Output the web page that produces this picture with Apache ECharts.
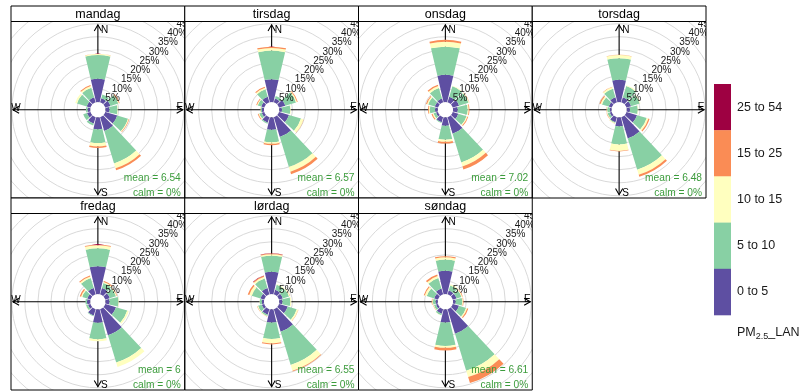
<!DOCTYPE html>
<html>
<head>
<meta charset="utf-8">
<script src="https://cdn.jsdelivr.net/npm/echarts@6/dist/echarts.min.js"></script>
<style>
  html, body { margin: 0; padding: 0; background: #ffffff; }
  #chart { width: 803px; height: 392px; }
</style>
</head>
<body>
<div id="chart"></div>
<script>
// Pollution rose of PM2.5 by weekday: frequency (%) of wind from each 30° sector,
// stacked by concentration band.
const days = ['mandag', 'tirsdag', 'onsdag', 'torsdag', 'fredag', 'lørdag', 'søndag'];
const directions = ['0', '30', '60', '90', '120', '150', '180', '210', '240', '270', '300', '330'];
const bins = ['0 to 5', '5 to 10', '10 to 15', '15 to 25', '25 to 54'];
const binColours = ['#5E4FA2', '#88D0A4', '#FFFFBF', '#FA8C55', '#9E0142'];
const means = ['6.54', '6.57', '7.02', '6.48', '6', '6.55', '6.61'];
const calms = ['0%', '0%', '0%', '0%', '0%', '0%', '0%'];
const gridBreaks = [0, 5, 10, 15, 20, 25, 30, 35, 40, 45, 50, 55];
const compassLetters = ['N', 'E', 'S', 'W'];

// rows: one per concentration band, columns: one per direction sector
const mandag = [
  [8.9, 1.6, 2.1, 1.5, 4.8, 5.5, 4.5, 2.5, 1.4, 1.0, 1.5, 2.0],
  [9.1, 1.5, 3.1, 3.1, 4.3, 13.0, 5.3, 0.8, 1.5, 0.6, 3.9, 3.8],
  [0.4, 0, 0.3, 0.2, 0.3, 1.9, 1.3, 0, 0, 0, 0.7, 0.7],
  [0.1, 0, 0.3, 0, 0.2, 0.8, 0.6, 0, 0, 0, 0, 0.4],
  [0, 0, 0, 0, 0, 0, 0, 0, 0, 0, 0, 0]
];
const tirsdag = [
  [8.7, 1.5, 2.5, 1.0, 4.0, 7.9, 4.7, 2.2, 1.0, 0.8, 1.2, 2.2],
  [11.0, 1.0, 4.3, 3.2, 4.8, 12.0, 4.8, 0.4, 1.0, 0.4, 1.4, 3.0],
  [1.0, 0, 0.4, 0.2, 1.0, 1.9, 0.6, 0, 0.3, 0.1, 0.3, 0.6],
  [0.5, 0, 0.3, 0, 0.1, 1.0, 0.5, 0, 0.3, 0.1, 0.3, 0.4],
  [0, 0, 0, 0, 0, 0, 0, 0, 0, 0, 0, 0]
];
const onsdag = [
  [10.4, 2.2, 2.5, 1.8, 2.2, 6.6, 3.2, 2.0, 0.8, 1.0, 1.3, 1.5],
  [10.8, 4.2, 3.8, 3.8, 3.3, 11.5, 5.3, 0.3, 1.0, 2.0, 2.6, 4.2],
  [1.9, 0.2, 0.3, 0.4, 0.4, 1.6, 0.8, 0, 0.4, 0.4, 0.5, 0.8],
  [0.7, 0, 0.1, 0.3, 0.3, 1.2, 0.7, 0, 0.4, 0.3, 0.4, 0.5],
  [0, 0, 0, 0, 0, 0, 0, 0, 0, 0, 0, 0]
];
const torsdag = [
  [8.5, 2.0, 1.8, 1.2, 4.2, 8.5, 3.4, 2.0, 0.8, 0.6, 1.2, 2.0],
  [8.3, 4.5, 3.5, 3.0, 3.9, 12.5, 6.9, 0.3, 0.9, 1.0, 2.7, 3.4],
  [1.2, 0.3, 0.3, 0.2, 0.7, 2.0, 2.5, 0.2, 0.2, 0.2, 0.6, 0.7],
  [0.1, 0, 0, 0, 0.4, 0.8, 0.2, 0.1, 0.2, 0.1, 0.4, 0.1],
  [0, 0, 0, 0, 0, 0, 0, 0, 0, 0, 0, 0]
];
const fredag = [
  [10.6, 2.5, 1.8, 1.5, 4.3, 10.4, 5.1, 2.5, 1.0, 1.2, 1.3, 2.5],
  [6.9, 2.0, 2.5, 3.4, 4.5, 10.9, 6.3, 0.3, 0.8, 0.6, 2.0, 4.0],
  [1.2, 0.4, 0.3, 0.2, 0.6, 1.8, 0.8, 0, 0.1, 0, 0.5, 0.6],
  [0.3, 0.4, 0.2, 0, 0, 0, 0, 0, 0, 0, 0.5, 0.4],
  [0, 0, 0, 0, 0, 0, 0, 0, 0, 0, 0, 0]
];
const lordag = [
  [8.5, 1.8, 1.5, 1.2, 3.5, 9.0, 5.0, 2.2, 1.0, 0.8, 1.5, 2.5],
  [6.2, 2.0, 2.5, 3.0, 3.6, 13.3, 6.3, 0.5, 1.5, 0.8, 3.5, 3.8],
  [0.5, 0.3, 0.4, 0.4, 0.6, 2.3, 1.7, 0.2, 0.3, 0.1, 1.0, 0.7],
  [0.3, 0, 0.1, 0, 0.1, 0.3, 0.4, 0.1, 0.1, 0, 0.6, 0.4],
  [0.1, 0, 0, 0, 0, 0, 0, 0, 0, 0, 0, 0.1]
];
const sondag = [
  [8.9, 1.5, 1.5, 1.0, 2.5, 9.8, 5.0, 1.8, 0.8, 0.8, 1.5, 2.3],
  [4.3, 2.0, 2.0, 2.5, 2.8, 14.8, 9.0, 0.6, 0.8, 1.0, 3.0, 4.2],
  [0.9, 0.5, 0.3, 0.3, 0.5, 2.6, 0.7, 0.1, 0.2, 0.3, 0.8, 0.8],
  [0.4, 0, 0.2, 0.2, 0.4, 2.4, 1.0, 0, 0.1, 0.2, 0.4, 0.6],
  [0, 0, 0, 0, 0, 0, 0, 0, 0, 0, 0, 0]
];
const dayValues = [mandag, tirsdag, onsdag, torsdag, fredag, lordag, sondag];

// ---- layout of the 4 x 2 panel grid ----
const panelLeft = 11;
const panelW = 173.75;
const rowTops = [6, 198];
const stripH = 15.5;
const plotH = 176.5;
const roseRadius = 85;
const FONT = '"Liberation Sans", Arial, Helvetica, sans-serif';

function panelBox(i) {
  const col = i % 4, row = Math.floor(i / 4);
  const x = panelLeft + col * panelW;
  const stripY = rowTops[row];
  return { x: x, y: stripY + stripH, w: panelW, h: plotH, stripY: stripY };
}

// shared radial scale: longest sector sets the range, 10% of it is the hollow centre
const sectorTotals = dayValues.map(d => directions.map((_, j) => d.reduce((s, row) => s + row[j], 0)));
const maxFreq = Math.max.apply(null, sectorTotals.flat());
const offSet = maxFreq * 0.1;

// radius (px) of a frequency value
function radialScale(api, cs) {
  const p0 = api.coord([0, 0]);
  const p5 = api.coord([5, 0]);
  const r0 = Math.hypot(p0[0] - cs.cx, p0[1] - cs.cy);
  const r5 = Math.hypot(p5[0] - cs.cx, p5[1] - cs.cy);
  return v => r0 + (r5 - r0) * v / 5;
}

function clipOf(box) {
  return { type: 'rect', shape: { x: box.x, y: box.y, width: box.w, height: box.h } };
}

const polar = [], angleAxis = [], radiusAxis = [], series = [], graphic = [];
const hidden = { axisLine: { show: false }, axisTick: { show: false }, axisLabel: { show: false },
                 splitLine: { show: false }, splitArea: { show: false } };

days.forEach((day, i) => {
  const box = panelBox(i);
  polar.push({ center: [box.x + box.w / 2, box.y + box.h / 2], radius: roseRadius });
  angleAxis.push(Object.assign({ polarIndex: i, type: 'category', data: directions,
    startAngle: 90 + 180 / directions.length, clockwise: true, boundaryGap: true }, hidden));
  radiusAxis.push(Object.assign({ polarIndex: i, type: 'value', min: -offSet, max: maxFreq }, hidden));

  // grey rings every 5 %
  series.push({
    type: 'custom', coordinateSystem: 'polar', polarIndex: i, z: 1, silent: true, animation: false,
    data: gridBreaks.map(b => [b, 0]),
    renderItem: function (params, api) {
      const cs = params.coordSys;
      const rad = radialScale(api, cs);
      return {
        type: 'group', clipPath: clipOf(box),
        children: [{ type: 'circle', shape: { cx: cs.cx, cy: cs.cy, r: rad(api.value(0)) },
          style: { fill: null, stroke: '#d9d9d9', lineWidth: 1 } }]
      };
    }
  });

  // compass cross with arrowheads, and the hollow centre
  series.push({
    type: 'custom', coordinateSystem: 'polar', polarIndex: i, z: 2, silent: true, animation: false,
    data: [[maxFreq, 0]],
    renderItem: function (params, api) {
      const cs = params.coordSys;
      const rad = radialScale(api, cs);
      const R = rad(api.value(0));
      const hole = rad(0);
      const cx = cs.cx, cy = cs.cy;
      const ah = 7.2, a = Math.PI / 6;
      const line = (x1, y1, x2, y2) => ({ type: 'line', shape: { x1: x1, y1: y1, x2: x2, y2: y2 },
        style: { stroke: '#000', lineWidth: 1.1 } });
      const head = (tx, ty, dx, dy) => {
        // dx,dy: unit vector pointing outwards along the shaft
        const bx = -dx, by = -dy;
        const p1 = [tx + ah * (bx * Math.cos(a) - by * Math.sin(a)), ty + ah * (bx * Math.sin(a) + by * Math.cos(a))];
        const p2 = [tx + ah * (bx * Math.cos(-a) - by * Math.sin(-a)), ty + ah * (bx * Math.sin(-a) + by * Math.cos(-a))];
        return { type: 'polyline', shape: { points: [p1, [tx, ty], p2] }, style: { fill: null, stroke: '#000', lineWidth: 1.1 } };
      };
      return {
        type: 'group', clipPath: clipOf(box),
        children: [
          line(cx, cy - R, cx, cy + R), line(cx - R, cy, cx + R, cy),
          head(cx, cy - R, 0, -1), head(cx, cy + R, 0, 1), head(cx + R, cy, 1, 0), head(cx - R, cy, -1, 0),
          { type: 'circle', shape: { cx: cx, cy: cy, r: hole }, style: { fill: '#fff', stroke: null } }
        ]
      };
    }
  });

  // stacked concentration bands
  bins.forEach((bin, b) => {
    series.push({
      type: 'bar', coordinateSystem: 'polar', polarIndex: i, stack: 'rose' + i, name: bin,
      data: dayValues[i][b], barCategoryGap: '12%', z: 3, silent: true, animation: false,
      itemStyle: { color: binColours[b] }
    });
  });

  // ring labels along the 45° line
  series.push({
    type: 'custom', coordinateSystem: 'polar', polarIndex: i, z: 4, silent: true, animation: false,
    data: gridBreaks.slice(1).map(b => [b, 0]),
    renderItem: function (params, api) {
      const cs = params.coordSys;
      const rad = radialScale(api, cs);
      const r = rad(api.value(0));
      return {
        type: 'group', clipPath: clipOf(box),
        children: [{ type: 'text', x: cs.cx + r * Math.SQRT1_2, y: cs.cy - r * Math.SQRT1_2 + 3,
          style: { text: api.value(0) + '%', fill: '#1a1a1a', font: '10px ' + FONT,
                   align: 'center', verticalAlign: 'middle' } }]
      };
    }
  });

  // compass letters
  series.push({
    type: 'custom', coordinateSystem: 'polar', polarIndex: i, z: 4, silent: true, animation: false,
    data: compassLetters.map((c, k) => [maxFreq, k]),
    renderItem: function (params, api) {
      const cs = params.coordSys;
      const rad = radialScale(api, cs);
      const R = rad(api.value(0));
      const k = params.dataIndex;
      const pos = [[cs.cx + 3, cs.cy - R + 5.5, 'left'], [cs.cx + R - 3, cs.cy - 2.5, 'center'],
                   [cs.cx + 3, cs.cy + R - 2, 'left'], [cs.cx - R + 3, cs.cy - 2, 'center']][k];
      return {
        type: 'group', clipPath: clipOf(box),
        children: [{ type: 'text', x: pos[0], y: pos[1],
          style: { text: compassLetters[k], fill: '#000', font: '10px ' + FONT,
                   align: pos[2], verticalAlign: 'middle' } }]
      };
    }
  });

  // strip with day name, panel frame, annotations
  graphic.push({ type: 'rect', shape: { x: box.x, y: box.stripY, width: box.w, height: stripH },
    style: { fill: '#fff', stroke: '#000', lineWidth: 1 }, z: 20, silent: true });
  graphic.push({ type: 'text', x: box.x + box.w / 2, y: box.stripY + stripH / 2 + 0.5,
    style: { text: day, fill: '#000', font: '12.5px ' + FONT, align: 'center', verticalAlign: 'middle' },
    z: 21, silent: true });
  graphic.push({ type: 'rect', shape: { x: box.x, y: box.y, width: box.w, height: box.h },
    style: { fill: null, stroke: '#000', lineWidth: 1 }, z: 20, silent: true });
  graphic.push({ type: 'text', x: box.x + box.w - 4, y: box.y + box.h - 19.5,
    style: { text: 'mean = ' + means[i], fill: '#3c9c3c', font: '10.2px ' + FONT, align: 'right', verticalAlign: 'middle' },
    z: 21, silent: true });
  graphic.push({ type: 'text', x: box.x + box.w - 4, y: box.y + box.h - 4.5,
    style: { text: 'calm = ' + calms[i], fill: '#3c9c3c', font: '10.2px ' + FONT, align: 'right', verticalAlign: 'middle' },
    z: 21, silent: true });
});

// colour key
const keyX = 714, keyW = 17, keyTop = 84, keyH = 46.2;
bins.slice().reverse().forEach((bin, k) => {
  const b = bins.length - 1 - k;
  graphic.push({ type: 'rect', shape: { x: keyX, y: keyTop + k * keyH, width: keyW, height: keyH + 0.3 },
    style: { fill: binColours[b], stroke: null }, z: 20, silent: true });
  graphic.push({ type: 'text', x: 737, y: keyTop + k * keyH + keyH / 2,
    style: { text: bin, fill: '#1a1a1a', font: '12.5px ' + FONT, align: 'left', verticalAlign: 'middle' },
    z: 21, silent: true });
});
// key title PM2.5_LAN with subscript
const measure = document.createElement('canvas').getContext('2d');
measure.font = '12.5px ' + FONT;
const wPM = measure.measureText('PM').width;
measure.font = '9px ' + FONT;
const wSub = measure.measureText('2.5').width;
graphic.push({ type: 'text', x: 737, y: 333, style: { text: 'PM', fill: '#1a1a1a', font: '12.5px ' + FONT, verticalAlign: 'middle' }, z: 21, silent: true });
graphic.push({ type: 'text', x: 737 + wPM, y: 336.5, style: { text: '2.5', fill: '#1a1a1a', font: '9px ' + FONT, verticalAlign: 'middle' }, z: 21, silent: true });
graphic.push({ type: 'text', x: 737 + wPM + wSub, y: 333, style: { text: '_LAN', fill: '#1a1a1a', font: '12.5px ' + FONT, verticalAlign: 'middle' }, z: 21, silent: true });

const chart = echarts.init(document.getElementById('chart'), null, { renderer: 'canvas', width: 803, height: 392 });
chart.setOption({
  animation: false,
  backgroundColor: '#ffffff',
  polar: polar,
  angleAxis: angleAxis,
  radiusAxis: radiusAxis,
  series: series,
  graphic: graphic
});
</script>
</body>
</html>
